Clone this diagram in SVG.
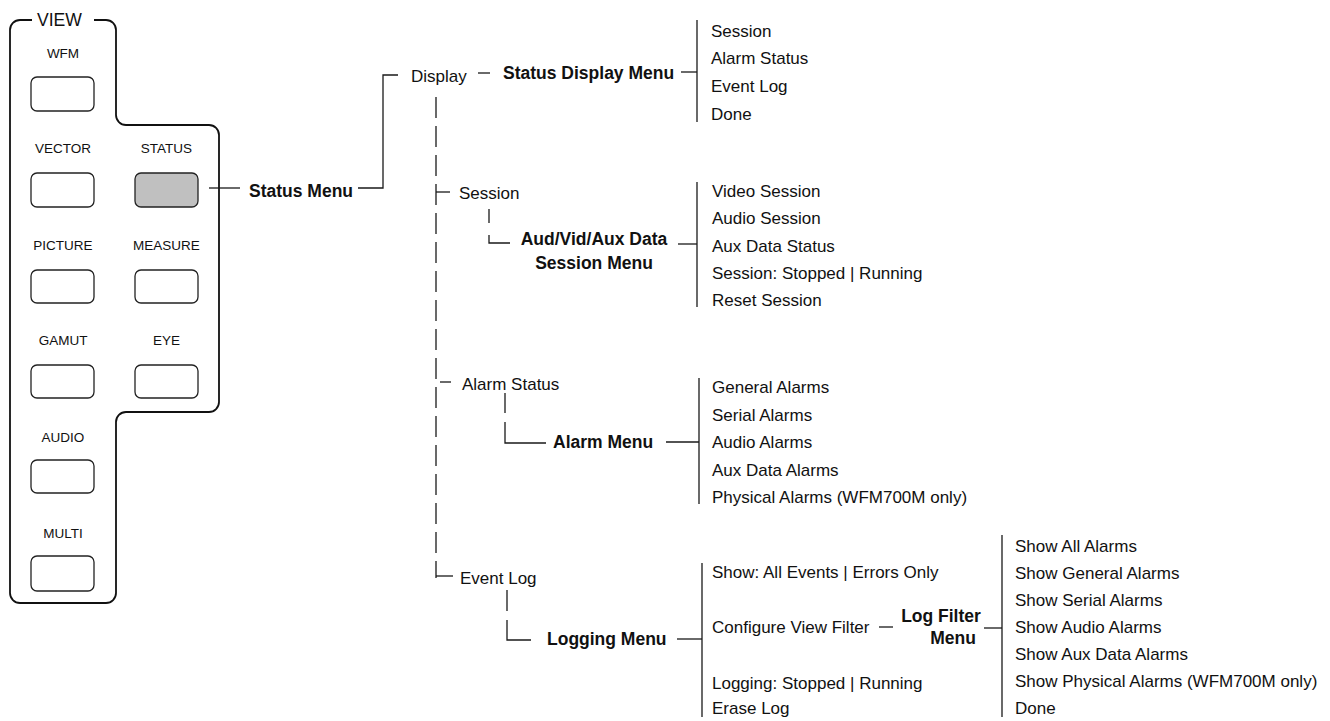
<svg xmlns="http://www.w3.org/2000/svg" width="1330" height="721" viewBox="0 0 1330 721">
  <style>
    .t { font-family: "Liberation Sans", Arial, sans-serif; font-size: 17px; fill: #111; }
    .b { font-family: "Liberation Sans", Arial, sans-serif; font-size: 17.5px; font-weight: bold; fill: #111; }
    .k { font-family: "Liberation Sans", Arial, sans-serif; font-size: 13.5px; fill: #111; text-anchor: middle; }
    .btn { fill: #fff; stroke: #222; stroke-width: 1.3; }
    .btn.on { fill: #c0c0c0; }
    .ln { fill: none; stroke: #1a1a1a; stroke-width: 1.3; }
    .dash { fill: none; stroke: #1a1a1a; stroke-width: 1.3; stroke-dasharray: 21 8; }
    .panel { fill: none; stroke: #111; stroke-width: 1.8; }
  </style>
  <rect width="1330" height="721" fill="#fff"/>

  <!-- front-panel VIEW key block -->
  <g id="view-panel">
    <path class="panel" d="M 32 20 H 20 A 10 10 0 0 0 10 30 V 593 A 10 10 0 0 0 20 603 H 106 A 10 10 0 0 0 116 593 V 422 A 10 10 0 0 1 126 412 H 209 A 10 10 0 0 0 219 402 V 135 A 10 10 0 0 0 209 125 H 126 A 10 10 0 0 1 116 115 V 30 A 10 10 0 0 0 106 20 H 94"/>
    <text class="t" x="37" y="26" style="font-size:17.6px">VIEW</text>
  </g>
  <g id="key-wfm"><text class="k" x="63" y="58">WFM</text><rect class="btn" x="31" y="77" width="63" height="34" rx="6"/></g>
  <g id="key-vector"><text class="k" x="63" y="153">VECTOR</text><rect class="btn" x="31" y="173" width="63" height="34" rx="6"/></g>
  <g id="key-status"><text class="k" x="166.5" y="153">STATUS</text><rect class="btn on" x="135" y="173" width="63" height="34" rx="6"/></g>
  <g id="key-picture"><text class="k" x="63" y="250">PICTURE</text><rect class="btn" x="31" y="270" width="63" height="33" rx="6"/></g>
  <g id="key-measure"><text class="k" x="166.5" y="250">MEASURE</text><rect class="btn" x="135" y="270" width="63" height="33" rx="6"/></g>
  <g id="key-gamut"><text class="k" x="63" y="345">GAMUT</text><rect class="btn" x="31" y="365" width="63" height="33" rx="6"/></g>
  <g id="key-eye"><text class="k" x="166.5" y="345">EYE</text><rect class="btn" x="135" y="365" width="63" height="33" rx="6"/></g>
  <g id="key-audio"><text class="k" x="63" y="442">AUDIO</text><rect class="btn" x="31" y="460" width="63" height="33" rx="6"/></g>
  <g id="key-multi"><text class="k" x="63" y="538">MULTI</text><rect class="btn" x="31" y="556" width="63" height="35" rx="6"/></g>

  <!-- menu tree connectors -->
  <g id="connectors">
    <line class="ln" x1="209" y1="188" x2="240" y2="188"/>
    <polyline class="ln" points="358,188 383,188 383,75 398,75"/>
    <line class="ln" x1="478" y1="73" x2="490" y2="73"/>
    <line class="ln" x1="681" y1="72" x2="697" y2="72"/>
    <line class="ln" x1="697" y1="20" x2="697" y2="122"/>

    <line class="dash" x1="436" y1="97" x2="436" y2="578"/>
    <line class="ln" x1="436" y1="192" x2="450" y2="192"/>
    <line class="ln" x1="440" y1="382" x2="451" y2="382"/>
    <line class="ln" x1="436" y1="576" x2="453" y2="576"/>

    <line class="ln" x1="489" y1="209" x2="489" y2="223"/>
    <polyline class="ln" points="489,235 489,243 510,243"/>
    <line class="ln" x1="678" y1="244" x2="697" y2="244"/>
    <line class="ln" x1="697" y1="182" x2="697" y2="307"/>

    <line class="ln" x1="505" y1="393" x2="505" y2="413"/>
    <polyline class="ln" points="505,422 505,443 546,443"/>
    <line class="ln" x1="666" y1="442" x2="699" y2="442"/>
    <line class="ln" x1="699" y1="378" x2="699" y2="504"/>

    <line class="ln" x1="507" y1="590" x2="507" y2="611"/>
    <polyline class="ln" points="507,620 507,640 531,640"/>
    <line class="ln" x1="677" y1="639" x2="702" y2="639"/>
    <line class="ln" x1="702" y1="563" x2="702" y2="717"/>

    <line class="ln" x1="879" y1="627" x2="893" y2="627"/>
    <line class="ln" x1="984" y1="628" x2="1002" y2="628"/>
    <line class="ln" x1="1002" y1="535" x2="1002" y2="717"/>
  </g>

  <g id="status-menu"><text class="b" x="249" y="197">Status Menu</text></g>
  <g id="display"><text class="t" x="411" y="82">Display</text></g>
  <g id="status-display-menu"><text class="b" x="503" y="79">Status Display Menu</text></g>
  <g id="status-display-items">
    <text class="t" x="711" y="37">Session</text>
    <text class="t" x="711" y="64">Alarm Status</text>
    <text class="t" x="711" y="92">Event Log</text>
    <text class="t" x="711" y="120">Done</text>
  </g>

  <g id="session"><text class="t" x="459" y="199">Session</text></g>
  <g id="session-menu">
    <text class="b" x="594" y="245" text-anchor="middle">Aud/Vid/Aux Data</text>
    <text class="b" x="594" y="269" text-anchor="middle">Session Menu</text>
  </g>
  <g id="session-items">
    <text class="t" x="712" y="197">Video Session</text>
    <text class="t" x="712" y="224">Audio Session</text>
    <text class="t" x="712" y="252">Aux Data Status</text>
    <text class="t" x="712" y="279">Session: Stopped | Running</text>
    <text class="t" x="712" y="306">Reset Session</text>
  </g>

  <g id="alarm-status"><text class="t" x="462" y="390">Alarm Status</text></g>
  <g id="alarm-menu"><text class="b" x="553" y="448">Alarm Menu</text></g>
  <g id="alarm-items">
    <text class="t" x="712" y="393">General Alarms</text>
    <text class="t" x="712" y="421">Serial Alarms</text>
    <text class="t" x="712" y="448">Audio Alarms</text>
    <text class="t" x="712" y="476">Aux Data Alarms</text>
    <text class="t" x="712" y="503">Physical Alarms (WFM700M only)</text>
  </g>

  <g id="event-log"><text class="t" x="460" y="584">Event Log</text></g>
  <g id="logging-menu"><text class="b" x="547" y="645">Logging Menu</text></g>
  <g id="logging-items">
    <text class="t" x="712" y="578">Show: All Events | Errors Only</text>
    <text class="t" x="712" y="633">Configure View Filter</text>
    <text class="t" x="712" y="689">Logging: Stopped | Running</text>
    <text class="t" x="712" y="714">Erase Log</text>
  </g>

  <g id="log-filter-menu">
    <text class="b" x="941" y="622" text-anchor="middle">Log Filter</text>
    <text class="b" x="953" y="644" text-anchor="middle">Menu</text>
  </g>
  <g id="log-filter-items">
    <text class="t" x="1015" y="552">Show All Alarms</text>
    <text class="t" x="1015" y="579">Show General Alarms</text>
    <text class="t" x="1015" y="606">Show Serial Alarms</text>
    <text class="t" x="1015" y="633">Show Audio Alarms</text>
    <text class="t" x="1015" y="660">Show Aux Data Alarms</text>
    <text class="t" x="1015" y="687">Show Physical Alarms (WFM700M only)</text>
    <text class="t" x="1015" y="714">Done</text>
  </g>
</svg>
